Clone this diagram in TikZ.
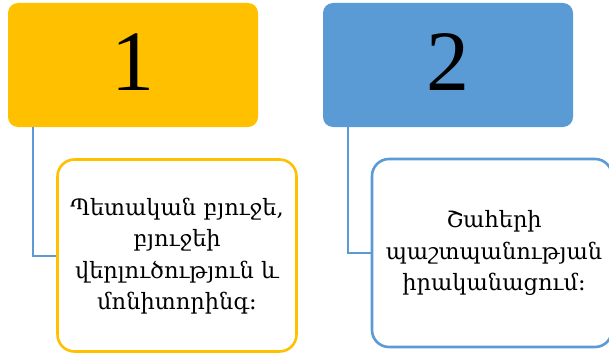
\documentclass[tikz,border=0pt]{standalone}
\usepackage{fontspec}
\setmainfont{DejaVu Serif}
\newfontfamily\digitfont{Liberation Serif}
\definecolor{gold}{HTML}{FFC000}
\definecolor{sky}{HTML}{5B9BD5}
\begin{document}
\begin{tikzpicture}[x=1pt,y=-1pt,
  head/.style={draw=none, rounded corners=10pt, inner sep=0pt},
  child/.style={draw, fill=white, line width=2.6pt, rounded corners=17pt, inner sep=0pt},
  link/.style={draw=sky, line width=2.4pt},
  bigtxt/.style={font=\digitfont\fontsize{86}{86}\selectfont},
  bodytxt/.style={align=center, font=\fontsize{22.5}{31.5}\selectfont}]
\useasboundingbox (0,0) rectangle (609,353);
\begin{scope}
\clip (0,0) rectangle (609,353);
% header boxes
\node[head, fill=gold, minimum width=250pt, minimum height=124pt] (h1) at (133,65) {};
\node[head, fill=sky, minimum width=250pt, minimum height=124pt] (h2) at (448,65) {};
\node[bigtxt] (n1) at (133,62) {1};
\node[bigtxt] (n2) at (448,62) {2};
% child boxes
\node[child, draw=gold, minimum width=239pt, minimum height=192pt] (c1) at (177,255.5) {};
\node[child, draw=sky, minimum width=240pt, minimum height=188pt] (c2) at (492,253) {};
\node[bodytxt] (t1) at (177,256) {Պետական բյուջե,\\բյուջեի\\վերլուծություն և\\մոնիտորինգ։};
\node[bodytxt] (t2) at (494,253) {Շահերի\\պաշտպանության\\իրականացում։};
% connectors
\coordinate (k1) at (33,256);
\coordinate (k2) at (348,253);
\draw[link] (h1.south west -| k1) -- (k1) -- (k1 -| c1.west);
\draw[link] (h2.south west -| k2) -- (k2) -- (k2 -| c2.west);
\end{scope}
\end{tikzpicture}
\end{document}
